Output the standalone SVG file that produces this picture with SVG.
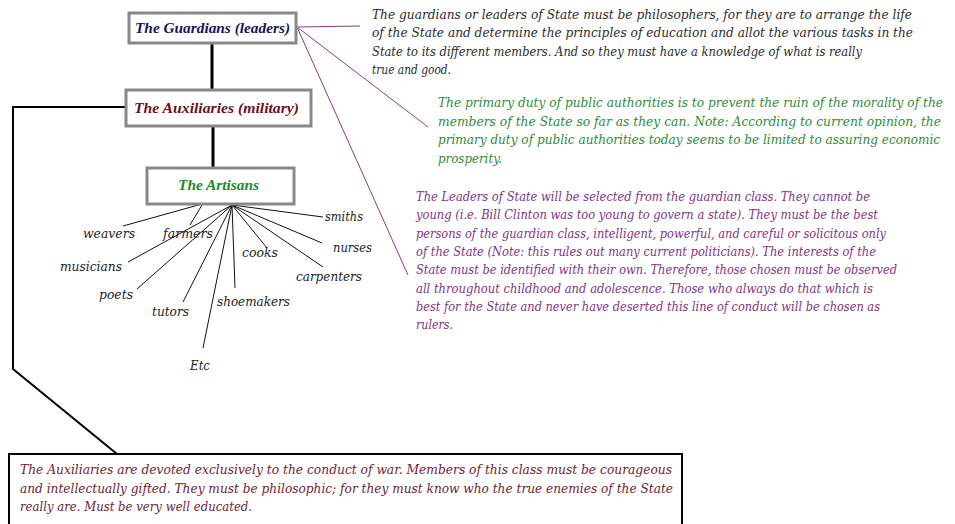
<svg xmlns="http://www.w3.org/2000/svg" width="955" height="524" viewBox="0 0 955 524">
<style>
.box{fill:#fff;stroke:#888;stroke-width:3}
.title{font-family:"Liberation Serif","Times New Roman",serif;font-style:italic;font-weight:bold;font-size:15px;text-anchor:start}
.para{font-family:"DejaVu Serif",serif;font-style:italic;font-size:12px}
.lbl{font-family:"DejaVu Serif",serif;font-style:italic;font-size:12.5px;fill:#222}
.thick{stroke:#000;stroke-width:3;fill:none}
.thin{stroke:#111;stroke-width:1;fill:none}
.pl{stroke:#8a3a8a;stroke-width:1;fill:none}
</style>
<rect width="955" height="524" fill="#fff"/>
<g id="connectors">
  <line class="thick" x1="212" y1="43" x2="212" y2="89"/>
  <line class="thick" x1="213" y1="126" x2="213" y2="167"/>
  <polyline fill="none" stroke="#000" stroke-width="2" points="125,107 13,107 13,369 117,454"/>
  <line class="pl" x1="297" y1="27" x2="360" y2="26"/>
  <line class="pl" x1="297" y1="27" x2="428" y2="127"/>
  <line class="pl" x1="297" y1="27" x2="408" y2="275"/>
  <line class="thin" x1="202" y1="204" x2="123" y2="226"/>
  <line class="thin" x1="202" y1="205" x2="190" y2="225"/>
  <line class="thin" x1="232" y1="205" x2="128" y2="262"/>
  <line class="thin" x1="232" y1="205" x2="137" y2="289"/>
  <line class="thin" x1="232" y1="205" x2="183" y2="302"/>
  <line class="thin" x1="232" y1="205" x2="203" y2="348"/>
  <line class="thin" x1="232" y1="205" x2="235" y2="288" stroke-width="1.5"/>
  <line class="thin" x1="232" y1="205" x2="267" y2="248"/>
  <line class="thin" x1="232" y1="205" x2="323" y2="267"/>
  <line class="thin" x1="232" y1="205" x2="322" y2="243"/>
  <line class="thin" x1="232" y1="205" x2="323" y2="217"/>
</g>
<g id="guardians">
  <rect class="box" x="129" y="13" width="167" height="30"/>
  <text class="title" x="135" y="33" fill="#14145e" textLength="155" lengthAdjust="spacingAndGlyphs">The Guardians (leaders)</text>
</g>
<g id="auxiliaries">
  <rect class="box" x="126" y="90" width="185" height="36"/>
  <text class="title" x="134" y="113" fill="#6a0f1c" textLength="165" lengthAdjust="spacingAndGlyphs">The Auxiliaries (military)</text>
</g>
<g id="artisans">
  <rect class="box" x="147" y="168" width="147" height="36"/>
  <text class="title" x="178" y="190" fill="#1d8a2a" textLength="81" lengthAdjust="spacingAndGlyphs">The Artisans</text>
</g>
<g id="occupations">
  <text class="lbl" x="83" y="238" textLength="52" lengthAdjust="spacingAndGlyphs">weavers</text>
  <text class="lbl" x="163" y="238" textLength="50" lengthAdjust="spacingAndGlyphs">farmers</text>
  <text class="lbl" x="60" y="271" textLength="62" lengthAdjust="spacingAndGlyphs">musicians</text>
  <text class="lbl" x="99" y="299" textLength="34" lengthAdjust="spacingAndGlyphs">poets</text>
  <text class="lbl" x="152" y="316" textLength="37" lengthAdjust="spacingAndGlyphs">tutors</text>
  <text class="lbl" x="190" y="370" textLength="20" lengthAdjust="spacingAndGlyphs">Etc</text>
  <text class="lbl" x="217" y="306" textLength="73" lengthAdjust="spacingAndGlyphs">shoemakers</text>
  <text class="lbl" x="242" y="257" textLength="36" lengthAdjust="spacingAndGlyphs">cooks</text>
  <text class="lbl" x="296" y="281" textLength="66" lengthAdjust="spacingAndGlyphs">carpenters</text>
  <text class="lbl" x="333" y="252" textLength="39" lengthAdjust="spacingAndGlyphs">nurses</text>
  <text class="lbl" x="325" y="221" textLength="38" lengthAdjust="spacingAndGlyphs">smiths</text>
</g>
<g id="guardians-note" class="para" fill="#2a2a2a">
  <text x="372" y="19" textLength="540" lengthAdjust="spacingAndGlyphs">The guardians or leaders of State must be philosophers, for they are to arrange the life</text>
  <text x="372" y="37.3" textLength="541" lengthAdjust="spacingAndGlyphs">of the State and determine the principles of education and allot the various tasks in the</text>
  <text x="372" y="55.6" textLength="490" lengthAdjust="spacingAndGlyphs">State to its different members. And so they must have a knowledge of what is really</text>
  <text x="372" y="74" textLength="79" lengthAdjust="spacingAndGlyphs">true and good.</text>
</g>
<g id="authorities-note" class="para" fill="#2f8a3a">
  <text x="438" y="107" textLength="505" lengthAdjust="spacingAndGlyphs">The primary duty of public authorities is to prevent the ruin of the morality of the</text>
  <text x="438" y="125.5" textLength="503" lengthAdjust="spacingAndGlyphs">members of the State so far as they can.  Note: According to current opinion, the</text>
  <text x="438" y="144" textLength="502" lengthAdjust="spacingAndGlyphs">primary duty of public authorities today seems to be limited to assuring economic</text>
  <text x="438" y="162.5" textLength="64" lengthAdjust="spacingAndGlyphs">prosperity.</text>
</g>
<g id="leaders-note" class="para" fill="#83337f">
  <text x="416" y="201" textLength="454" lengthAdjust="spacingAndGlyphs">The Leaders of State will be selected from the guardian class.  They cannot be</text>
  <text x="416" y="219.3" textLength="462" lengthAdjust="spacingAndGlyphs">young (i.e. Bill Clinton was too young to govern a state).  They must be the best</text>
  <text x="416" y="237.6" textLength="470" lengthAdjust="spacingAndGlyphs">persons of the guardian class, intelligent, powerful, and careful or solicitous only</text>
  <text x="416" y="255.9" textLength="460" lengthAdjust="spacingAndGlyphs">of the State (Note: this rules out many current politicians).  The interests of the</text>
  <text x="416" y="274.2" textLength="481" lengthAdjust="spacingAndGlyphs">State must be identified with their own.  Therefore, those chosen must be observed</text>
  <text x="416" y="292.5" textLength="457" lengthAdjust="spacingAndGlyphs">all throughout childhood and adolescence.  Those who always do that which is</text>
  <text x="416" y="310.8" textLength="464" lengthAdjust="spacingAndGlyphs">best for the State and never have deserted this line of conduct will be chosen as</text>
  <text x="416" y="329.1" textLength="37" lengthAdjust="spacingAndGlyphs">rulers.</text>
</g>
<g id="auxiliaries-note">
  <rect x="9" y="454" width="673" height="80" fill="#fff" stroke="#000" stroke-width="2"/>
  <g class="para" fill="#6e2230">
    <text x="20" y="474" textLength="652" lengthAdjust="spacingAndGlyphs">The Auxiliaries are devoted exclusively to the conduct of war.  Members of this class must be courageous</text>
    <text x="20" y="492.5" textLength="653" lengthAdjust="spacingAndGlyphs">and intellectually gifted.  They must be philosophic; for they must know who the true enemies of the State</text>
    <text x="20" y="511" textLength="232" lengthAdjust="spacingAndGlyphs">really are.  Must be very well educated.</text>
  </g>
</g>
</svg>
